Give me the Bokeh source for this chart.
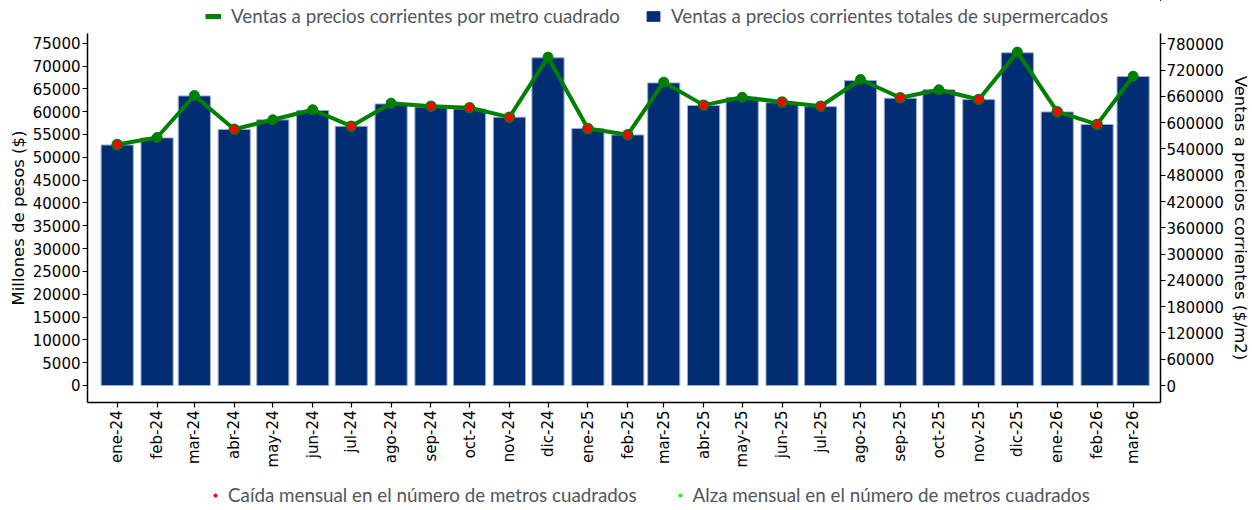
import math
import pandas as pd
from bokeh.plotting import figure
from bokeh.layouts import column
from bokeh.models import (Range1d, LinearAxis, FixedTicker, Legend, LegendItem,
                          ColumnDataSource, BasicTickFormatter)
from bokeh.embed import file_html
from bokeh.resources import INLINE

# ---------------- data ----------------
meses = ["ene-24", "feb-24", "mar-24", "abr-24", "may-24", "jun-24", "jul-24",
         "ago-24", "sep-24", "oct-24", "nov-24", "dic-24", "ene-25", "feb-25",
         "mar-25", "abr-25", "may-25", "jun-25", "jul-25", "ago-25", "sep-25",
         "oct-25", "nov-25", "dic-25", "ene-26", "feb-26", "mar-26"]
fechas = ["2024-01-01", "2024-02-01", "2024-03-01", "2024-04-01", "2024-05-01",
          "2024-06-01", "2024-07-01", "2024-08-01", "2024-09-01", "2024-10-01",
          "2024-11-01", "2024-12-01", "2025-01-01", "2025-02-01", "2025-03-01",
          "2025-04-01", "2025-05-01", "2025-06-01", "2025-07-01", "2025-08-01",
          "2025-09-01", "2025-10-01", "2025-11-01", "2025-12-01", "2026-01-01",
          "2026-02-01", "2026-03-01"]
# Ventas totales de supermercados (millones de $)
ventas_totales = [52700, 54250, 63450, 56100, 58200, 60250, 56800, 61700, 61000,
                  60600, 58800, 71800, 56300, 54900, 66300, 61350, 63150, 61950,
                  61100, 66800, 62950, 64800, 62650, 72900, 59950, 57200, 67700]
# Ventas por metro cuadrado ($/m2)
ventas_m2 = [550000, 566000, 662000, 585000, 606500, 629500, 592000, 644500,
             637500, 634000, 612500, 749500, 586500, 572500, 692500, 640000,
             658000, 647000, 637500, 698500, 656800, 675000, 653000, 761000,
             625000, 596000, 706000]
# Variacion mensual del numero de metros cuadrados
variacion_m2 = ["caida", "alza", "alza", "caida", "alza", "alza", "caida",
                "alza", "caida", "caida", "caida", "alza", "caida", "caida",
                "alza", "caida", "alza", "caida", "caida", "alza", "caida",
                "alza", "caida", "alza", "caida", "caida", "alza"]

# ---------------- prep ----------------
f = pd.to_datetime(fechas)
dias = [int((d - f[0]).days) for d in f]

src = ColumnDataSource(dict(x=dias, total=ventas_totales, m2=ventas_m2))
caida_src = ColumnDataSource(dict(
    x=[d for d, v in zip(dias, variacion_m2) if v == "caida"],
    m2=[m for m, v in zip(ventas_m2, variacion_m2) if v == "caida"]))
alza_src = ColumnDataSource(dict(
    x=[d for d, v in zip(dias, variacion_m2) if v == "alza"],
    m2=[m for m, v in zip(ventas_m2, variacion_m2) if v == "alza"]))

NAVY = "#022c73"
GREEN = "#008000"
TICK_FONT = "DejaVu Sans"
LEG_FONT = "Lato"
W = 1252
TOP_H = 32
MAIN_H = 440
BOT_H = 38

p = figure(width=W, height=MAIN_H, output_backend="svg", toolbar_location=None,
           x_range=Range1d(dias[0] - 23.1, dias[-1] + 21.3),
           y_range=Range1d(-3725, 77125),
           min_border_left=87, min_border_right=90, min_border_top=1,
           min_border_bottom=70)
p.extra_y_ranges = {"m2": Range1d(-38800, 803500)}
p.outline_line_color = None
p.xgrid.visible = False
p.ygrid.visible = False

bars = p.vbar(x="x", top="total", width=25, source=src, fill_color=NAVY,
              line_color="#9aacd0", line_width=1)
line = p.line(x="x", y="m2", source=src, y_range_name="m2", line_color=GREEN,
              line_width=4)
p.scatter(x="x", y="m2", source=alza_src, y_range_name="m2", size=10,
          fill_color=GREEN, line_color=GREEN, line_width=1)
p.scatter(x="x", y="m2", source=caida_src, y_range_name="m2", size=10,
          fill_color="red", line_color=GREEN, line_width=1.5)


def style_axis(ax):
    ax.major_label_text_font = TICK_FONT
    ax.major_label_text_font_size = "15px"
    ax.major_label_text_color = "black"
    ax.axis_label_text_font = TICK_FONT
    ax.axis_label_text_font_size = "16.5px"
    ax.axis_label_text_font_style = "normal"
    ax.axis_label_text_color = "black"
    ax.axis_line_color = "black"
    ax.axis_line_width = 1.5
    ax.major_tick_line_color = "black"
    ax.major_tick_line_width = 1.2
    ax.major_tick_out = 5
    ax.major_tick_in = 0
    ax.minor_tick_line_color = None


# x axis
xa = p.xaxis[0]
xa.ticker = FixedTicker(ticks=dias)
xa.major_label_overrides = {d: m for d, m in zip(dias, meses)}
xa.major_label_orientation = math.pi / 2
style_axis(xa)
xa.major_label_standoff = 3

# left axis
ya = p.yaxis[0]
ya.ticker = FixedTicker(ticks=list(range(0, 75001, 5000)))
ya.formatter = BasicTickFormatter(use_scientific=False)
ya.axis_label = "Millones de pesos ($)"
style_axis(ya)
ya.major_label_standoff = 2
ya.axis_label_standoff = 2

# right axis
yr = LinearAxis(y_range_name="m2", axis_label="Ventas a precios corrientes ($/m2)",
                ticker=FixedTicker(ticks=list(range(0, 780001, 60000))),
                formatter=BasicTickFormatter(use_scientific=False))
style_axis(yr)
yr.major_label_standoff = 1
yr.axis_label_standoff = 4
p.add_layout(yr, "right")


# ---------------- legend strips ----------------
# proxy renderers use the real data but sit outside these strips' visible ranges
def legend_fig(h):
    lf = figure(width=W, height=h, output_backend="svg", toolbar_location=None,
                x_range=Range1d(-3000, -2000), y_range=Range1d(-3000, -2000),
                min_border=0, outline_line_color=None)
    lf.axis.visible = False
    lf.grid.visible = False
    return lf


leg_style = dict(orientation="horizontal", label_text_font=LEG_FONT,
                 label_text_font_size="18.8px", label_text_color="#50565b",
                 padding=0, margin=0, border_line_color=None,
                 background_fill_alpha=0, label_height=20)

top = legend_fig(TOP_H)
t_line = top.line(x=dias, y=ventas_m2, line_color=GREEN, line_width=5)
t_bar = top.vbar(x=dias, top=ventas_totales, width=25, fill_color=NAVY, line_color=NAVY)
top.add_layout(Legend(items=[
    LegendItem(label="Ventas a precios corrientes por metro cuadrado", renderers=[t_line]),
    LegendItem(label="Ventas a precios corrientes totales de supermercados", renderers=[t_bar])],
    location=(118, 5), glyph_width=16, glyph_height=12,
    label_standoff=10, spacing=25, **leg_style))

bot = legend_fig(BOT_H)
b_caida = bot.scatter(x=caida_src.data["x"], y=caida_src.data["m2"], size=8,
                      fill_color="red", line_color=None)
b_alza = bot.scatter(x=alza_src.data["x"], y=alza_src.data["m2"], size=8,
                     fill_color="lime", line_color=None)
bot.add_layout(Legend(items=[
    LegendItem(label="Caída mensual en el número de metros cuadrados", renderers=[b_caida]),
    LegendItem(label="Alza mensual en el número de metros cuadrados", renderers=[b_alza])],
    location=(123, 4), glyph_width=10, glyph_height=12,
    label_standoff=8, spacing=38, **leg_style))

layout = column(top, p, bot, spacing=0)
open("out.html", "w").write(file_html(layout, INLINE))
